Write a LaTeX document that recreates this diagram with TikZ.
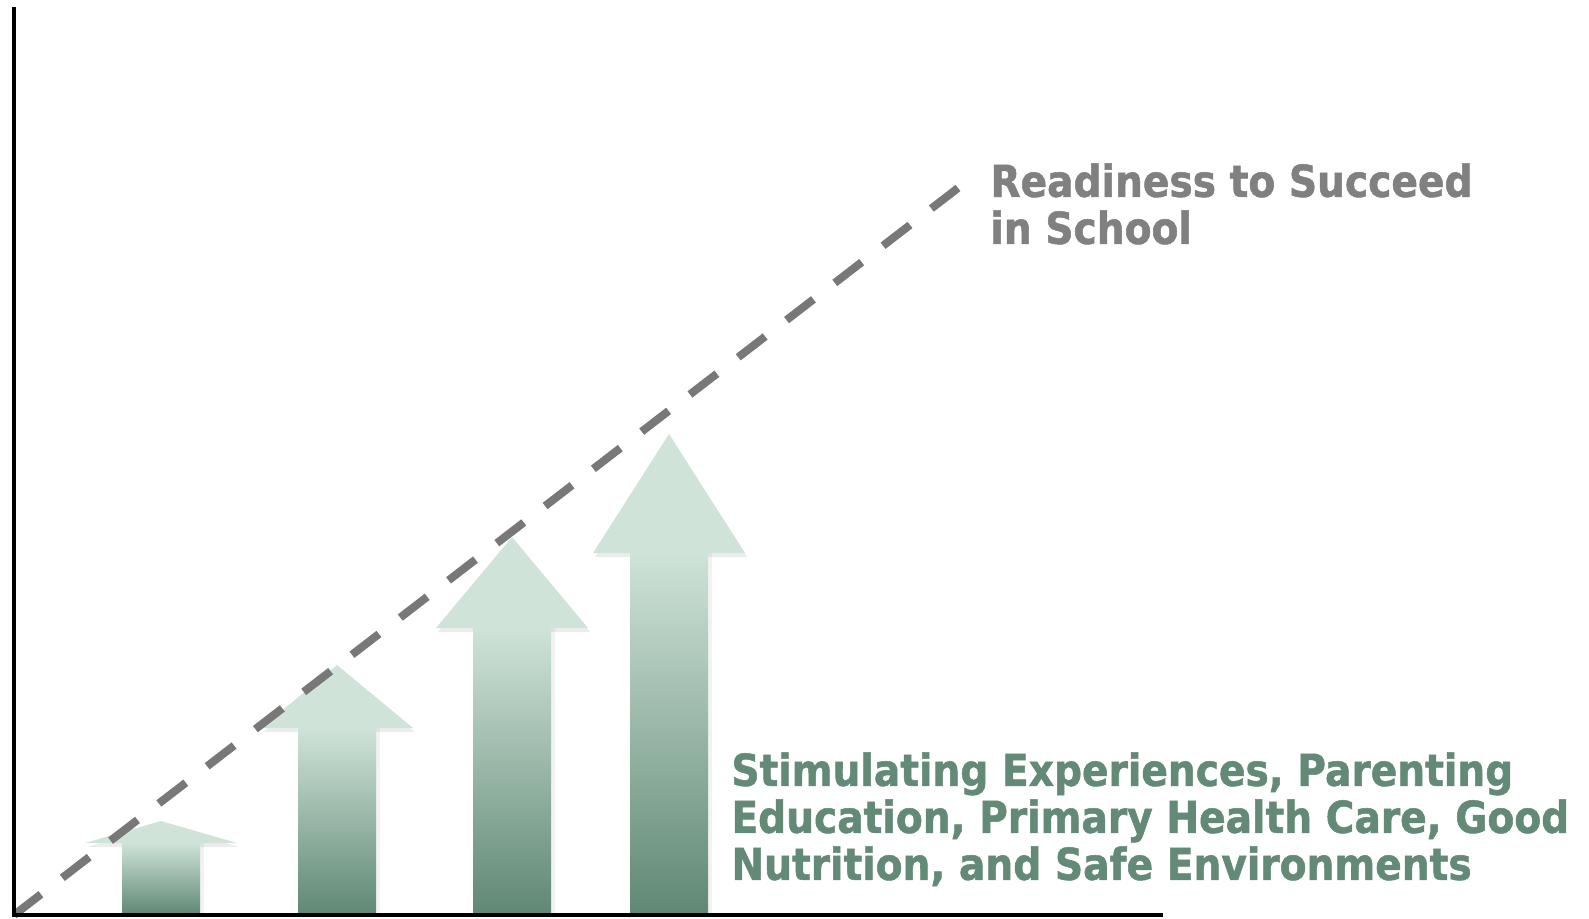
\documentclass[tikz,border=0pt]{standalone}
\usepackage{fontspec}
\setmainfont{DejaVu Sans}[FakeStretch=0.89, BoldFeatures={FakeBold=1.2}]
\usetikzlibrary{shadows}

\definecolor{arrowlight}{RGB}{207,227,216}
\definecolor{arrowdark}{RGB}{96,136,116}
\definecolor{textgreen}{RGB}{98,138,118}
\definecolor{textgray}{RGB}{128,128,128}
\definecolor{dashgray}{RGB}{120,120,120}

\tikzset{
  axis/.style={line width=2pt, black},
  trend/.style={line width=4pt, dashgray, dash pattern=on 17pt off 13.47pt},
  label/.style={font=\bfseries\fontsize{22}{23.5}\selectfont, align=left, anchor=north west, inner sep=0pt},
}

\begin{document}
\begin{tikzpicture}[x=0.5pt,y=-0.5pt]
\useasboundingbox (0,0) rectangle (1589,918);

\coordinate (o) at (14,915);
\coordinate (ytop) at (14,7);
\coordinate (xend) at (1163,915);
\coordinate (rtop) at (958,188);

% arrows: centre / head base / tip
\foreach \cx/\hb/\tip in {161/843/821, 337/728/665, 512/628/537, 669/553/434} {
  \fill[arrowlight, drop shadow={shadow xshift=1pt, shadow yshift=-2pt, opacity=0.15}]
    (\cx-76,\hb) -- (\cx,\tip) -- (\cx+76,\hb) -- cycle;
  \shade[top color=arrowlight, bottom color=arrowdark,
    drop shadow={shadow xshift=2pt, shadow yshift=0pt, opacity=0.1}]
    (\cx-39,914) rectangle (\cx+39,\hb);
}

\draw[trend] (o) -- (rtop);
\draw[axis] (ytop) -- (o) -- (xend);

\node[label, textgray] (goal) at (990,163) {Readiness to Succeed\\in School};
\node[label, textgreen] (inputs) at (731,752) {Stimulating Experiences, Parenting\\Education, Primary Health Care, Good\\Nutrition, and Safe Environments};
\end{tikzpicture}
\end{document}
